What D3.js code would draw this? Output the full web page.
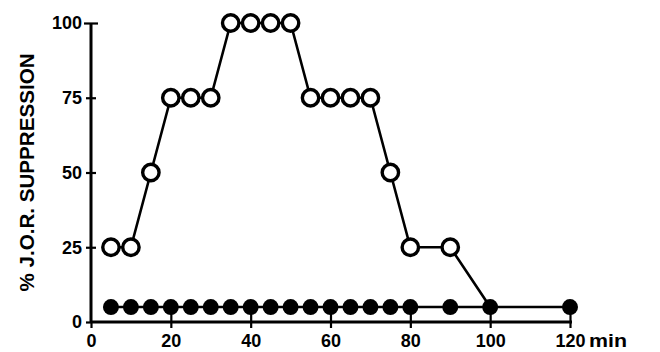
<!DOCTYPE html>
<html lang="en">
<head>
<meta charset="utf-8">
<title>% J.O.R. suppression</title>
<script src="https://cdn.jsdelivr.net/npm/d3@7"></script>
<style>
  body { margin: 0; background: #fff; }
  svg text { font-family: "Liberation Sans", Arial, sans-serif; font-weight: bold; fill: #000; }
</style>
</head>
<body>
<div id="chart"></div>
<script>
// open circles and filled circles, minutes vs % suppression
const openTimes = [5, 10, 15, 20, 25, 30, 35, 40, 45, 50, 55, 60, 65, 70, 75, 80, 90, 100];
const openValues = [25, 25, 50, 75, 75, 75, 100, 100, 100, 100, 75, 75, 75, 75, 50, 25, 25, 5];
const filledTimes = [5, 10, 15, 20, 25, 30, 35, 40, 45, 50, 55, 60, 65, 70, 75, 80, 90, 100, 120];
const filledValues = [5, 5, 5, 5, 5, 5, 5, 5, 5, 5, 5, 5, 5, 5, 5, 5, 5, 5, 5];
const xTicks = [0, 20, 40, 60, 80, 100, 120];
const yTicks = [0, 25, 50, 75, 100];

const width = 660, height = 352;
const margin = { left: 91, right: 90, top: 23, bottom: 30 };

const svg = d3.select("#chart").append("svg")
    .attr("width", width)
    .attr("height", height);

const x = d3.scaleLinear().domain([0, 120]).range([margin.left, width - margin.right]);
const y = d3.scaleLinear().domain([0, 100]).range([height - margin.bottom, margin.top]);

// x axis, ticks cross the line
const xAxisG = svg.append("g")
    .attr("transform", "translate(0," + y(0) + ")")
    .call(d3.axisBottom(x).tickValues(xTicks).tickSize(6).tickSizeOuter(0).tickPadding(6));
xAxisG.select(".domain").remove();
xAxisG.selectAll(".tick line").attr("stroke", "#000").attr("stroke-width", 2.2)
    .attr("y1", d => (d === 0 ? 0 : -9));
xAxisG.selectAll(".tick text").attr("font-size", 18).attr("dy", "0.72em");
xAxisG.append("line")
    .attr("x1", x(0)).attr("x2", x(120.5))
    .attr("stroke", "#000").attr("stroke-width", 3);
xAxisG.append("text")
    .attr("x", 608).attr("y", 12)
    .attr("dy", "0.72em")
    .attr("font-size", 18)
    .attr("textLength", 38)
    .attr("lengthAdjust", "spacingAndGlyphs")
    .text("min");

// y axis
const yAxisG = svg.append("g")
    .attr("transform", "translate(" + x(0) + ",0)")
    .call(d3.axisLeft(y).tickValues(yTicks).tickSize(5).tickSizeOuter(0).tickPadding(5));
yAxisG.select(".domain").remove();
yAxisG.selectAll(".tick line").attr("stroke", "#000").attr("stroke-width", 2.2)
    .attr("x2", d => (d === 0 ? 0 : d === 100 ? 7 : 5))
    .attr("x1", d => (d === 100 ? -7 : -5));
yAxisG.selectAll(".tick text").attr("font-size", 18).attr("x", -9);
yAxisG.append("line")
    .attr("y1", y(0)).attr("y2", y(100))
    .attr("stroke", "#000").attr("stroke-width", 3);

svg.append("text")
    .attr("transform", "translate(27," + (y(0) + y(100)) / 2 + ") rotate(-90)")
    .attr("text-anchor", "middle")
    .attr("dy", "0.36em")
    .attr("font-size", 20)
    .attr("textLength", 238)
    .attr("lengthAdjust", "spacingAndGlyphs")
    .text("% J.O.R. SUPPRESSION");

const line = d3.line().x(d => x(d[0])).y(d => y(d[1]));
const openData = openTimes.map((t, i) => [t, openValues[i]]);
const filledData = filledTimes.map((t, i) => [t, filledValues[i]]);

svg.append("path")
    .datum(openData)
    .attr("fill", "none").attr("stroke", "#000").attr("stroke-width", 2.6)
    .attr("d", line);

// last open point sits under the filled one
svg.selectAll("circle.open")
    .data(openData.slice(0, openData.length - 1))
    .enter().append("circle")
    .attr("class", "open")
    .attr("cx", d => x(d[0])).attr("cy", d => y(d[1]))
    .attr("r", 8.2)
    .attr("fill", "#fff").attr("stroke", "#000").attr("stroke-width", 3.4);

svg.append("path")
    .datum(filledData)
    .attr("fill", "none").attr("stroke", "#000").attr("stroke-width", 2.6)
    .attr("d", line);

svg.selectAll("circle.filled")
    .data(filledData)
    .enter().append("circle")
    .attr("class", "filled")
    .attr("cx", d => x(d[0])).attr("cy", d => y(d[1]))
    .attr("r", 8)
    .attr("fill", "#000");
</script>
</body>
</html>
